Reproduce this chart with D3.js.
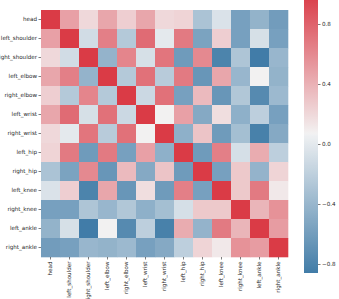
<!DOCTYPE html>
<html>
<head>
<meta charset="utf-8">
<script src="https://cdn.jsdelivr.net/npm/d3@7"></script>
<style>
  body { margin: 0; background: #fff; }
  text { font-family: "DejaVu Sans", sans-serif; }
</style>
</head>
<body>
<svg id="chart" width="339" height="299"></svg>
<script>
// joint names, same order on both axes
var joints = ["head", "left_shoulder", "right_shoulder", "left_elbow", "right_elbow",
  "left_wrist", "right_wrist", "left_hip", "right_hip", "left_knee", "right_knee",
  "left_ankle", "right_ankle"];

// correlation matrix
var corr = [
  [1, 0.48, 0.2, 0.45, 0.25, 0.45, 0.2, 0.22, -0.3, -0.05, -0.57, -0.43, -0.6],
  [0.48, 1, -0.1, 0.65, -0.25, 0.75, 0.0, 0.68, -0.55, 0.25, -0.57, -0.07, -0.57],
  [0.2, -0.1, 1, -0.42, 0.62, -0.07, 0.7, -0.62, 0.6, -0.8, -0.28, -0.86, -0.4],
  [0.45, 0.65, -0.42, 1, -0.25, 0.72, -0.23, 0.68, -0.65, 0.45, -0.4, 0.07, -0.43],
  [0.25, -0.25, 0.62, -0.25, 1, -0.13, 0.72, -0.57, 0.35, -0.65, -0.27, -0.75, -0.38],
  [0.45, 0.75, -0.07, 0.72, -0.13, 1, 0.07, 0.48, -0.5, 0.17, -0.45, -0.2, -0.57],
  [0.2, 0.0, 0.7, -0.23, 0.72, 0.07, 1, -0.45, 0.3, -0.62, -0.33, -0.82, -0.5],
  [0.22, 0.68, -0.62, 0.68, -0.57, 0.48, -0.45, 1, -0.62, 0.65, -0.08, 0.42, -0.2],
  [-0.3, -0.55, 0.6, -0.65, 0.35, -0.5, 0.3, -0.62, 1, -0.57, 0.28, -0.42, 0.22],
  [-0.05, 0.25, -0.8, 0.45, -0.65, 0.17, -0.62, 0.65, -0.57, 1, 0.28, 0.68, 0.12],
  [-0.57, -0.57, -0.28, -0.4, -0.27, -0.45, -0.33, -0.08, 0.28, 0.28, 1, 0.38, 0.55],
  [-0.43, -0.07, -0.86, 0.07, -0.75, -0.2, -0.82, 0.42, -0.42, 0.68, 0.38, 1, 0.5],
  [-0.6, -0.57, -0.4, -0.43, -0.38, -0.57, -0.5, -0.2, 0.22, 0.12, 0.55, 0.5, 1]
];

var cbTicks = [0.8, 0.4, 0.0, -0.4, -0.8];

// --- husl -> rgb (for the seaborn style diverging palette) ---
function lchToLinear(L, C, H) {
  var hr = H * Math.PI / 180;
  var U = C * Math.cos(hr), V = C * Math.sin(hr);
  var Y = L > 8 ? Math.pow((L + 16) / 116, 3) : L / 903.2962962;
  var refU = 0.19783000664283, refV = 0.46831999493879;
  var vu = U / (13 * L) + refU, vv = V / (13 * L) + refV;
  var X = 9 * Y * vu / (4 * vv);
  var Z = Y * (12 - 3 * vu - 20 * vv) / (4 * vv);
  return [3.2406 * X - 1.5372 * Y - 0.4986 * Z,
          -0.9689 * X + 1.8758 * Y + 0.0415 * Z,
          0.0557 * X - 0.2040 * Y + 1.0570 * Z];
}
function husl(h, s, l) {
  var lo = 0, hi = 250;
  for (var k = 0; k < 60; k++) {
    var mid = (lo + hi) / 2;
    var c = lchToLinear(l, mid, h);
    if (c.every(function(v) { return v >= 0 && v <= 1; })) lo = mid; else hi = mid;
  }
  var lin = lchToLinear(l, lo * s / 100, h);
  return lin.map(function(v) {
    v = Math.max(0, Math.min(1, v));
    var g = v <= 0.0031308 ? 12.92 * v : 1.055 * Math.pow(v, 1 / 2.4) - 0.055;
    return g * 255;
  });
}

var blueEnd = husl(240, 75, 50), blueLight = husl(240, 11.25, 95);
var redEnd = husl(10, 75, 50), redLight = husl(10, 11.25, 95);
var pal = [];
for (var i = 0; i < 127; i++) pal.push(d3.interpolateArray(blueEnd, blueLight)(i / 126));
pal.push([242.25, 242.25, 242.25]);
for (var i = 0; i < 127; i++) pal.push(d3.interpolateArray(redLight, redEnd)(i / 126));

function cmap(t) {
  var idx = Math.min(255, Math.max(0, Math.floor(t * 256)));
  var p = idx / 255 * (pal.length - 1);
  var a = Math.floor(p), b = Math.min(pal.length - 1, a + 1);
  var c = d3.interpolateArray(pal[a], pal[b])(p - a);
  return d3.rgb(c[0], c[1], c[2]).formatHex();
}

var vmin = d3.min(corr, function(r) { return d3.min(r); });
var vmax = d3.max(corr, function(r) { return d3.max(r); });
var norm = d3.scaleLinear().domain([vmin, vmax]).range([0, 1]).clamp(true);

var svg = d3.select("#chart");
var mLeft = 41, mTop = 10, side = 247;

var x = d3.scaleBand().domain(joints).range([mLeft, mLeft + side]);
var y = d3.scaleBand().domain(joints).range([mTop, mTop + side]);

var cells = [];
corr.forEach(function(row, r) {
  row.forEach(function(v, c) { cells.push({ r: joints[r], c: joints[c], v: v }); });
});

svg.append("g")
  .selectAll("rect")
  .data(cells)
  .enter().append("rect")
  .attr("x", function(d) { return x(d.c); })
  .attr("y", function(d) { return y(d.r); })
  .attr("width", x.bandwidth() + 0.3)
  .attr("height", y.bandwidth() + 0.3)
  .attr("fill", function(d) { return cmap(norm(d.v)); });

var fs = 5.6;

var gy = svg.append("g")
  .attr("transform", "translate(" + mLeft + ",0)")
  .call(d3.axisLeft(y).tickSize(2.5).tickPadding(1.5));
gy.select(".domain").remove();
gy.selectAll("line").attr("stroke", "#262626").attr("stroke-width", 0.6);
gy.selectAll("text").attr("font-size", fs).attr("fill", "#262626").attr("font-family", "DejaVu Sans");

var gx = svg.append("g")
  .attr("transform", "translate(0," + (mTop + side) + ")")
  .call(d3.axisBottom(x).tickSize(2.5).tickPadding(1.5));
gx.select(".domain").remove();
gx.selectAll("line").attr("stroke", "#262626").attr("stroke-width", 0.6);
gx.selectAll("text")
  .attr("font-size", fs).attr("fill", "#262626").attr("font-family", "DejaVu Sans")
  .attr("transform", "rotate(-90)")
  .attr("text-anchor", "end")
  .attr("x", -4.5).attr("y", 0).attr("dy", "0.35em");

// colorbar
var cbX = 304, cbW = 14;
var cbScale = d3.scaleLinear().domain([vmin, vmax]).range([273, -6]);

var grad = svg.append("defs").append("linearGradient")
  .attr("id", "cbgrad").attr("x1", 0).attr("y1", 1).attr("x2", 0).attr("y2", 0);
grad.selectAll("stop")
  .data(d3.range(0, 256))
  .enter().append("stop")
  .attr("offset", function(d) { return d / 255; })
  .attr("stop-color", function(d) { return cmap((d + 0.5) / 256); });

svg.append("rect")
  .attr("x", cbX)
  .attr("y", cbScale(vmax))
  .attr("width", cbW)
  .attr("height", cbScale(vmin) - cbScale(vmax))
  .attr("fill", "url(#cbgrad)");

var gc = svg.append("g")
  .attr("transform", "translate(" + (cbX + cbW) + ",0)")
  .call(d3.axisRight(cbScale).tickValues(cbTicks).tickFormat(d3.format(".1f")).tickSize(2.5).tickPadding(1.5));
gc.select(".domain").remove();
gc.selectAll("line").attr("stroke", "#262626").attr("stroke-width", 0.6);
gc.selectAll("text").attr("font-size", fs).attr("fill", "#262626").attr("font-family", "DejaVu Sans");
</script>
</body>
</html>
